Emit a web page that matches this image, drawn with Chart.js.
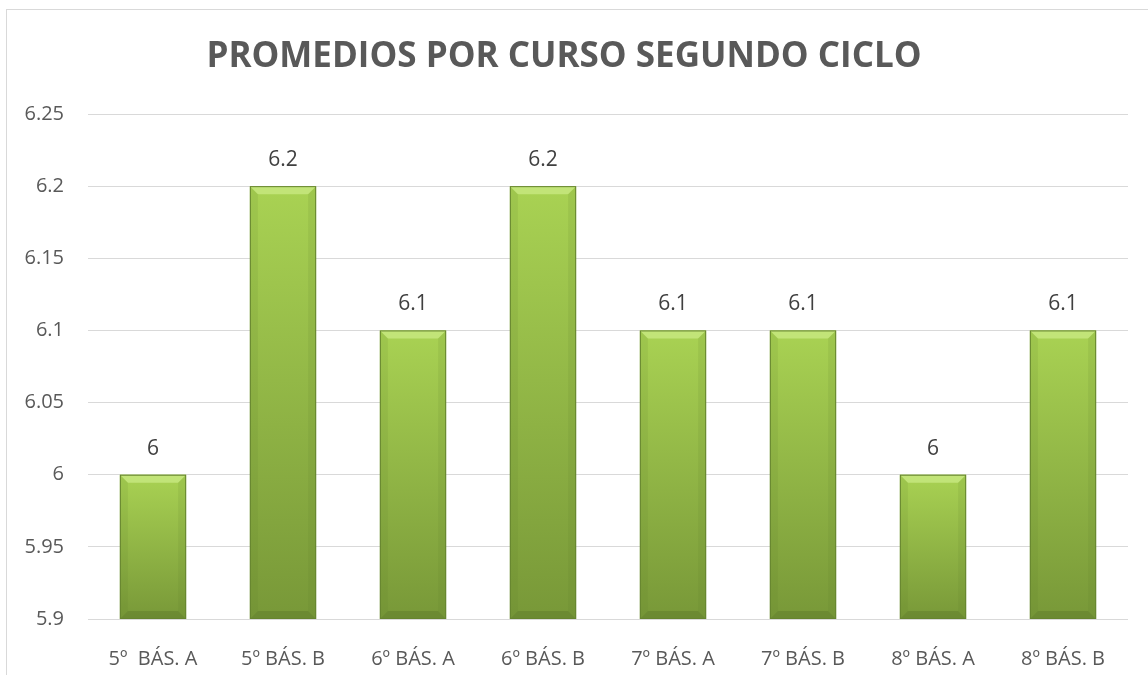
<!DOCTYPE html>
<html>
<head>
<meta charset="utf-8">
<script src="https://cdn.jsdelivr.net/npm/chart.js@4"></script>
<style>
  html, body { margin: 0; padding: 0; background: #fff; }
  #wrap { width: 1148px; height: 675px; }
</style>
</head>
<body>
<div id="wrap"><canvas id="promedios"></canvas></div>
<script>
var cursos = ["5º  BÁS. A", "5º BÁS. B", "6º BÁS. A", "6º BÁS. B", "7º BÁS. A", "7º BÁS. B", "8º BÁS. A", "8º BÁS. B"];
var promedios = [6, 6.2, 6.1, 6.2, 6.1, 6.1, 6, 6.1];
var tituloGrafico = "PROMEDIOS POR CURSO SEGUNDO CICLO";

var gris = "#595959";
var fuente = "'Open Sans', 'Noto Sans', sans-serif";

// marco gris alrededor del grafico
var marco = {
    id: "marco",
    beforeDraw: function (chart) {
        var ctx = chart.ctx;
        ctx.save();
        ctx.strokeStyle = "#d9d9d9";
        ctx.lineWidth = 1;
        ctx.strokeRect(6.5, 9.5, 1300, 800);
        ctx.restore();
    }
};

// barras con degradado y bisel, y etiquetas de valor encima
var biselYEtiquetas = {
    id: "biselYEtiquetas",
    afterDatasetsDraw: function (chart) {
        var ctx = chart.ctx;
        var area = chart.chartArea;
        var meta = chart.getDatasetMeta(0);
        meta.data.forEach(function (bar, i) {
            var p = bar.getProps(["x", "y", "base", "width"], true);
            var l = p.x - p.width / 2, r = p.x + p.width / 2;
            var t = Math.max(p.y, area.top), b = Math.min(p.base, area.bottom);
            var bev = 8;
            ctx.save();
            var g = ctx.createLinearGradient(0, t, 0, b);
            g.addColorStop(0, "#a9d253");
            g.addColorStop(1, "#789838");
            ctx.fillStyle = g;
            ctx.fillRect(l, t, r - l, b - t);
            // bisel superior claro
            ctx.fillStyle = "rgba(200,232,130,0.8)";
            ctx.beginPath();
            ctx.moveTo(l, t); ctx.lineTo(r, t); ctx.lineTo(r - bev, t + bev); ctx.lineTo(l + bev, t + bev);
            ctx.closePath(); ctx.fill();
            // bisel inferior oscuro
            ctx.fillStyle = "rgba(80,105,35,0.3)";
            ctx.beginPath();
            ctx.moveTo(l, b); ctx.lineTo(r, b); ctx.lineTo(r - bev, b - bev); ctx.lineTo(l + bev, b - bev);
            ctx.closePath(); ctx.fill();
            // laterales
            ctx.fillStyle = "rgba(90,120,40,0.12)";
            ctx.beginPath();
            ctx.moveTo(l, t); ctx.lineTo(l + bev, t + bev); ctx.lineTo(l + bev, b - bev); ctx.lineTo(l, b);
            ctx.closePath(); ctx.fill();
            ctx.beginPath();
            ctx.moveTo(r, t); ctx.lineTo(r - bev, t + bev); ctx.lineTo(r - bev, b - bev); ctx.lineTo(r, b);
            ctx.closePath(); ctx.fill();
            ctx.strokeStyle = "#66842f";
            ctx.lineWidth = 1;
            ctx.strokeRect(l + 0.5, t + 0.5, r - l - 1, b - t - 1);
            // valor
            ctx.fillStyle = "#404040";
            ctx.font = "21px " + fuente;
            ctx.textAlign = "center";
            ctx.textBaseline = "middle";
            ctx.fillText(String(promedios[i]), p.x, t - 26);
            ctx.restore();
        });
    }
};

var lienzo = document.getElementById("promedios");
new Chart(lienzo, {
    type: "bar",
    data: {
        labels: cursos,
        datasets: [
            {
                label: "Promedio",
                data: promedios,
                backgroundColor: "rgba(0,0,0,0)",
                borderWidth: 0,
                barPercentage: 0.51,
                categoryPercentage: 1
            }
        ]
    },
    options: {
        responsive: true,
        maintainAspectRatio: false,
        animation: false,
        layout: { padding: { left: 0, right: 20, top: 0, bottom: 0 } },
        plugins: {
            legend: { display: false },
            tooltip: { enabled: false },
            title: {
                display: true,
                text: tituloGrafico,
                color: gris,
                font: { family: fuente, size: 35, weight: "bold", lineHeight: 1.2 },
                padding: { top: 36, bottom: 36 }
            }
        },
        scales: {
            x: {
                grid: { display: false },
                border: { display: false },
                ticks: {
                    color: gris,
                    font: { family: fuente, size: 20 },
                    padding: 20,
                    maxRotation: 0
                },
                afterFit: function (s) { s.height = 56; }
            },
            y: {
                min: 5.9,
                max: 6.25,
                grid: { color: "#d9d9d9", drawTicks: false },
                border: { display: false },
                ticks: {
                    stepSize: 0.05,
                    color: gris,
                    font: { family: fuente, size: 20 },
                    padding: 24,
                    callback: function (v) { return String(Math.round(v * 100) / 100); }
                },
                afterFit: function (s) { s.width = 88; }
            }
        }
    },
    plugins: [marco, biselYEtiquetas]
});
</script>
</body>
</html>
